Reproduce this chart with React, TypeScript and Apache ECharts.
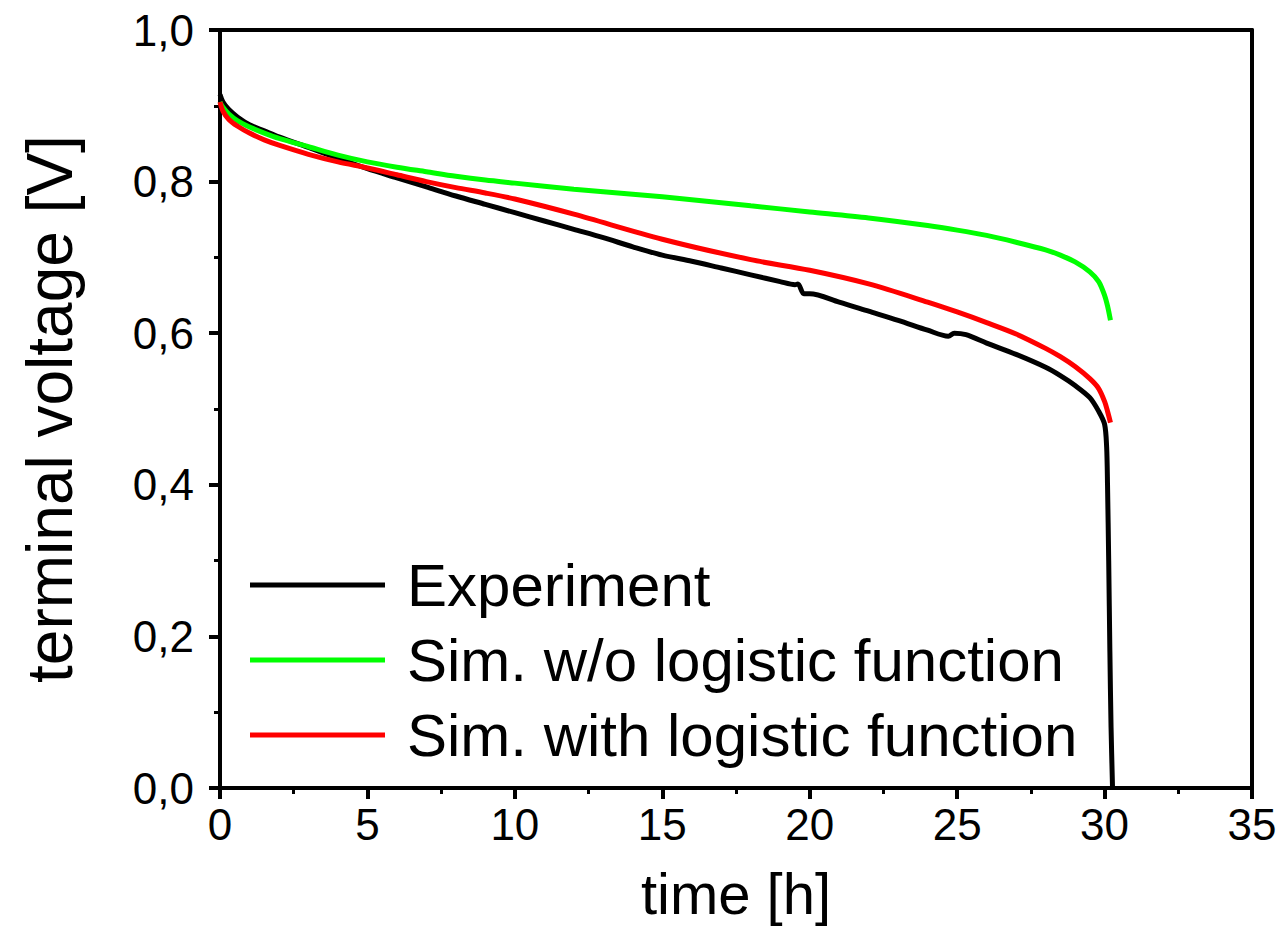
import React, { useEffect, useRef } from "react";
import * as echarts from "echarts";

const seriesNames = ["Experiment", "Sim. w/o logistic function", "Sim. with logistic function"];

const expTime = [0, 0.1, 0.3, 0.6, 1, 1.5, 2, 3, 4, 5, 6, 7, 8, 9, 10, 11, 12, 13, 14, 15, 16, 17, 18, 19, 19.5, 19.6, 19.8, 20, 21, 22, 23, 24, 24.7, 24.9, 25.3, 26, 27, 28, 28.5, 29, 29.5, 29.8, 30.0, 30.07, 30.1, 30.14, 30.18, 30.22, 30.27];
const expVolt = [0.915, 0.905, 0.895, 0.885, 0.875, 0.867, 0.859, 0.845, 0.831, 0.817, 0.805, 0.793, 0.781, 0.770, 0.759, 0.748, 0.737, 0.726, 0.714, 0.703, 0.695, 0.686, 0.677, 0.668, 0.664, 0.665, 0.652, 0.652, 0.641, 0.629, 0.617, 0.604, 0.596, 0.600, 0.598, 0.587, 0.572, 0.555, 0.544, 0.531, 0.515, 0.497, 0.48, 0.45, 0.40, 0.30, 0.18, 0.08, 0.0];

const simNoLogTime = [0, 0.1, 0.3, 0.6, 1, 1.5, 2, 3, 4, 5, 6, 7, 8, 9, 10, 12, 15, 18, 20, 22, 24, 25, 26, 27, 28, 28.5, 29, 29.5, 29.8, 30.0, 30.1, 30.2];
const simNoLogVolt = [0.905, 0.898, 0.889, 0.880, 0.872, 0.864, 0.857, 0.846, 0.835, 0.826, 0.819, 0.813, 0.807, 0.802, 0.798, 0.790, 0.780, 0.768, 0.760, 0.752, 0.742, 0.736, 0.729, 0.720, 0.710, 0.703, 0.694, 0.681, 0.668, 0.650, 0.636, 0.617];

const simLogTime = [0, 0.1, 0.3, 0.6, 1, 1.5, 2, 3, 4, 5, 6, 7, 8, 9, 10, 12, 15, 18, 20, 22, 24, 25, 26, 27, 28, 28.5, 29, 29.5, 29.8, 30.0, 30.1, 30.2];
const simLogVolt = [0.905, 0.893, 0.882, 0.873, 0.864, 0.855, 0.848, 0.836, 0.826, 0.818, 0.809, 0.800, 0.792, 0.785, 0.777, 0.757, 0.724, 0.697, 0.683, 0.665, 0.641, 0.628, 0.614, 0.599, 0.580, 0.569, 0.556, 0.540, 0.527, 0.510, 0.497, 0.482];

const seriesColors = ["#000000", "#00ff00", "#ff0000"];

const FONT = "'Liberation Sans', Arial, Helvetica, sans-serif";

function pairs(t: number[], v: number[]) {
  return t.map((x, i) => [x, v[i]]);
}

export default function App() {
  const ref = useRef<HTMLDivElement>(null);
  useEffect(() => {
    if (!ref.current) return;
    const chart = echarts.init(ref.current, null, { renderer: "svg" });
    const datasets = [
      pairs(expTime, expVolt),
      pairs(simNoLogTime, simNoLogVolt),
      pairs(simLogTime, simLogVolt),
    ];
    chart.setOption({
      animation: false,
      backgroundColor: "#ffffff",
      textStyle: { fontFamily: FONT },
      grid: { left: 220, right: 30, top: 30, bottom: 164, containLabel: false },
      legend: {
        orient: "vertical",
        left: 250,
        top: 553,
        padding: 0,
        itemWidth: 135,
        itemHeight: 5,
        itemGap: 11,
        icon: "rect",
        data: seriesNames,
        textStyle: { fontSize: 60, fontFamily: FONT, color: "#000", lineHeight: 64, padding: [0, 0, 0, 17] },
      },
      xAxis: [
        {
          type: "value",
          min: 0,
          max: 35,
          interval: 5,
          name: "time [h]",
          nameLocation: "middle",
          nameGap: 76,
          nameTextStyle: { fontSize: 58, color: "#000", fontFamily: FONT },
          axisLine: { show: true, onZero: false, lineStyle: { color: "#000", width: 4 } },
          axisTick: { show: true, inside: false, length: 11, lineStyle: { color: "#000", width: 4 } },
          minorTick: { show: true, splitNumber: 2, length: 6, lineStyle: { color: "#000", width: 3 } },
          axisLabel: { fontSize: 44, color: "#000", margin: 14, fontFamily: FONT },
          splitLine: { show: false },
        },
        {
          type: "value",
          position: "top",
          min: 0,
          max: 35,
          interval: 5,
          axisLine: { show: true, onZero: false, lineStyle: { color: "#000", width: 4 } },
          axisTick: { show: false },
          axisLabel: { show: false },
          splitLine: { show: false },
        },
      ],
      yAxis: [
        {
          type: "value",
          min: 0,
          max: 1,
          interval: 0.2,
          name: "terminal voltage [V]",
          nameLocation: "middle",
          nameGap: 138,
          nameTextStyle: { fontSize: 64, color: "#000", fontFamily: FONT },
          axisLine: { show: true, onZero: false, lineStyle: { color: "#000", width: 4 } },
          axisTick: { show: true, inside: false, length: 11, lineStyle: { color: "#000", width: 4 } },
          minorTick: { show: true, splitNumber: 2, length: 6, lineStyle: { color: "#000", width: 3 } },
          axisLabel: {
            fontSize: 44,
            color: "#000",
            margin: 26,
            fontFamily: FONT,
            formatter: (v: number) => v.toFixed(1).replace(".", ","),
          },
          splitLine: { show: false },
        },
        {
          type: "value",
          position: "right",
          min: 0,
          max: 1,
          interval: 0.2,
          axisLine: { show: true, onZero: false, lineStyle: { color: "#000", width: 4 } },
          axisTick: { show: false },
          axisLabel: { show: false },
          splitLine: { show: false },
        },
      ],
      series: seriesNames.map((name, i) => ({
        name,
        type: "line",
        xAxisIndex: 0,
        yAxisIndex: 0,
        data: datasets[i],
        showSymbol: false,
        symbol: "none",
        smooth: 0.3,
        color: seriesColors[i],
        lineStyle: { color: seriesColors[i], width: 5 },
        z: 2 + i,
      })),
    });
    return () => chart.dispose();
  }, []);
  return (
    <div
      ref={ref}
      style={{ position: "fixed", left: 0, top: 0, width: 1282, height: 952, background: "#fff" }}
    />
  );
}
